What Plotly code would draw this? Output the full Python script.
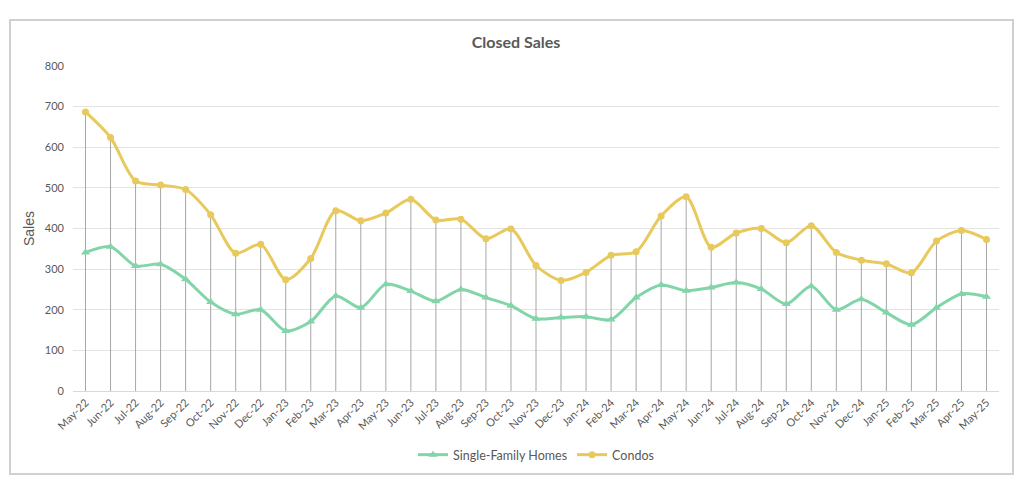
import plotly.graph_objects as go

months = ["May-22", "Jun-22", "Jul-22", "Aug-22", "Sep-22", "Oct-22", "Nov-22", "Dec-22",
          "Jan-23", "Feb-23", "Mar-23", "Apr-23", "May-23", "Jun-23", "Jul-23", "Aug-23",
          "Sep-23", "Oct-23", "Nov-23", "Dec-23", "Jan-24", "Feb-24", "Mar-24", "Apr-24",
          "May-24", "Jun-24", "Jul-24", "Aug-24", "Sep-24", "Oct-24", "Nov-24", "Dec-24",
          "Jan-25", "Feb-25", "Mar-25", "Apr-25", "May-25"]

single_family = [341, 355, 308, 312, 275, 219, 189, 200, 148, 171, 234, 205, 263, 246, 221, 250,
                 230, 210, 178, 181, 183, 176, 230, 261, 247, 255, 267, 251, 214, 258, 200, 226,
                 193, 163, 205, 239, 232]

condos = [687, 624, 517, 507, 496, 434, 339, 361, 274, 326, 444, 419, 438, 472, 421, 423,
          375, 399, 309, 272, 292, 334, 343, 431, 478, 354, 389, 400, 365, 407, 341, 322,
          313, 291, 369, 395, 373]

y_ticks = [0, 100, 200, 300, 400, 500, 600, 700, 800]

GREEN = "#82D5A9"
YELLOW = "#E8C95C"
TXT = "#595959"

# drop lines from highest point to axis
dx, dy = [], []
for m, a, b in zip(months, single_family, condos):
    dx += [m, m, None]
    dy += [0, max(a, b), None]

fig = go.Figure()
fig.add_trace(go.Scatter(x=dx, y=dy, mode="lines", line=dict(color="#A6A6A6", width=1),
                         showlegend=False, hoverinfo="skip"))
fig.add_trace(go.Scatter(x=months, y=single_family, name="Single-Family Homes",
                         mode="lines+markers", line=dict(color=GREEN, width=3, shape="spline", smoothing=0.8),
                         marker=dict(symbol="triangle-up", size=8, color=GREEN)))
fig.add_trace(go.Scatter(x=months, y=condos, name="Condos",
                         mode="lines+markers", line=dict(color=YELLOW, width=3, shape="spline", smoothing=0.8),
                         marker=dict(symbol="circle", size=7, color=YELLOW)))

fig.update_layout(
    width=1016, height=474,
    margin=dict(l=65, r=25, t=58, b=83),
    paper_bgcolor="white", plot_bgcolor="white",
    font=dict(family="Lato, Open Sans, sans-serif", color=TXT, size=11),
    title=dict(text="<b>Closed Sales</b>", x=0.5, xanchor="center", y=0.928, yanchor="middle",
               font=dict(size=16, color=TXT, family="Lato, Open Sans, sans-serif")),
    showlegend=True,
    legend=dict(orientation="h", x=0.5, xanchor="center", y=-0.197, yanchor="middle",
                font=dict(size=12.5, color=TXT), traceorder="normal"),
    xaxis=dict(type="category", categoryorder="array", categoryarray=months,
               range=[-0.5, len(months) - 0.5], tickangle=-45, showgrid=False,
               showline=True, linecolor="#D9D9D9", linewidth=1, ticks="",
               tickfont=dict(size=11, color=TXT)),
    yaxis=dict(range=[0, 800], tickvals=y_ticks, showgrid=True, gridcolor="#E3E3E3", gridwidth=1,
               zeroline=False, showline=False, ticks="", ticklabelstandoff=8,
               tickfont=dict(size=11, color=TXT),
               title=dict(text="Sales", font=dict(family="Liberation Sans, Arial", size=14, color=TXT),
                          standoff=6)),
    shapes=[dict(type="rect", xref="paper", yref="paper", x0=-0.068, x1=1.0151,
                 y0=-0.2554, y1=1.1415, line=dict(color="#D0D0D0", width=2), layer="below")],
)

fig.write_html("out.html")
